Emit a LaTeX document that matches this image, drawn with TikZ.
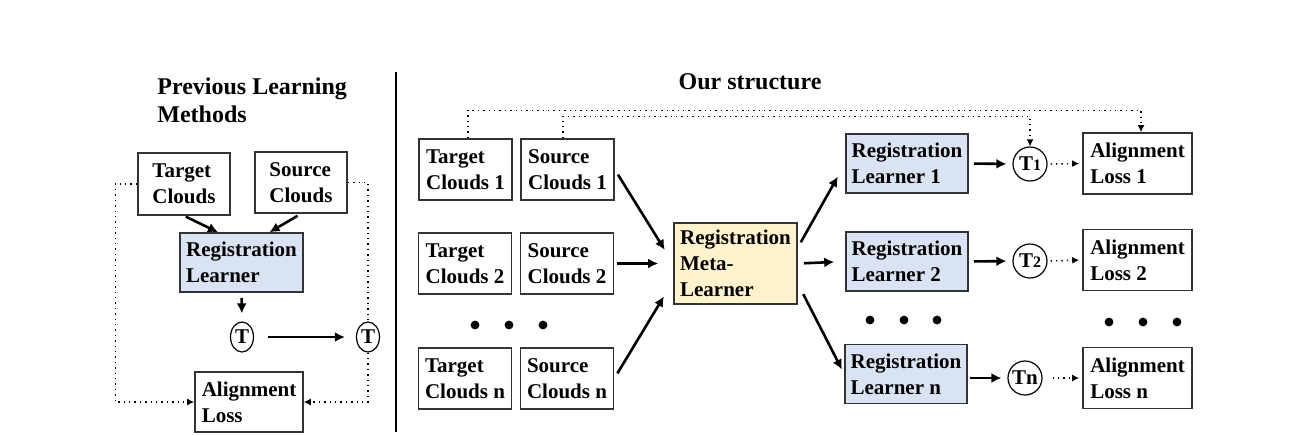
\documentclass[tikz,border=0pt]{standalone}
\usepackage{fontspec}
\setmainfont{Liberation Serif}
\usepackage{xcolor}
\usetikzlibrary{shapes.geometric, arrows.meta, positioning}

\definecolor{reglearn}{HTML}{DAE3F3}
\definecolor{metalearn}{HTML}{FFF2CC}

\begin{document}
\begin{tikzpicture}[
    x=0.5pt, y=-0.5pt,
    font=\fontsize{10.5}{13}\selectfont\bfseries,
    box/.style={
        rectangle,
        draw=black!80,
        line width=0.8pt,
        align=left,
        inner sep=2pt,
        minimum width=46.5pt,
        minimum height=30.5pt
    },
    regbox/.style={box, fill=reglearn, minimum width=61pt, minimum height=29.5pt},
    metabox/.style={box, fill=metalearn, minimum width=61.5pt, minimum height=40.5pt},
    lossbox/.style={box, minimum width=54.5pt, minimum height=30.5pt},
    tcirc/.style={circle, draw, line width=0.6pt, inner sep=0pt, minimum size=17pt},
    tell/.style={ellipse, draw, line width=0.6pt, inner sep=0pt, minimum width=11.5pt, minimum height=15pt},
    arr/.style={-{Latex[length=5pt, width=5pt]}, line width=1.3pt},
    dotarr/.style={-{Latex[length=3.5pt, width=3.5pt]}, line width=0.7pt, dotted}
]
  \useasboundingbox (0,0) rectangle (1305,435);

  % previous learning methods
  \node[anchor=north west, align=left, inner sep=0pt,
        font=\fontsize{12}{14}\selectfont\bfseries] (titleL) at (157,77)
        {Previous Learning\\Methods};
  \node[box, minimum width=46pt, minimum height=31pt] (tgtL) at (184,184) {Target\\Clouds};
  \node[box, minimum width=46pt] (srcL) at (301,182.5) {Source\\Clouds};
  \node[regbox, minimum width=61.5pt] (regL) at (241.5,262.5) {Registration\\Learner};
  \node[tell] (tL1) at (242,337) {T};
  \node[tell] (tL2) at (368,337) {T};
  \node[lossbox, minimum width=54pt, minimum height=30pt] (lossL) at (249,402) {Alignment\\Loss};

  \draw[arr, shorten <=1pt] (tgtL.south) -- ([xshift=-11.75pt]regL.north);
  \draw[arr, shorten <=2pt] (srcL.south) -- ([xshift=14pt]regL.north);
  \draw[arr, shorten <=2.5pt, shorten >=4pt] (regL.south) -- (tL1.north);
  \draw[arr, shorten <=7pt, shorten >=5.5pt] (tL1.east) -- (tL2.west);

  \draw[dotarr] (tgtL.west) -- ++(-22,0) |- (lossL.west);
  \draw[line width=0.7pt, dotted] (srcL.east) -| (tL2.north);
  \draw[dotarr] (tL2.south) |- (lossL.east);

  % separator
  \draw[line width=1pt] (396,72) -- (396,432);

  % our structure
  \node[font=\fontsize{12}{14}\selectfont\bfseries] (titleR) at (750,82) {Our structure};

  \node[box] (tgt1) at (465.5,169.5) {Target\\Clouds 1};
  \node[box] (src1) at (567.5,169.5) {Source\\Clouds 1};
  \node[box] (tgt2) at (465,263.5) {Target\\Clouds 2};
  \node[box] (src2) at (567,263.5) {Source\\Clouds 2};
  \node[box] (tgtn) at (465,378.5) {Target\\Clouds n};
  \node[box] (srcn) at (567,378.5) {Source\\Clouds n};

  \node[metabox] (meta) at (735.5,263.5) {Registration\\Meta-\\Learner};

  \node[regbox] (reg1) at (907,163.5) {Registration\\Learner 1};
  \node[regbox] (reg2) at (907,261.5) {Registration\\Learner 2};
  \node[regbox] (regn) at (906,374) {Registration\\Learner n};

  \node[tcirc] (t1) at (1030,164) {T{\fontsize{8}{8}\selectfont 1}};
  \node[tcirc] (t2) at (1030,261) {T{\fontsize{8}{8}\selectfont 2}};
  \node[tcirc] (tn) at (1025,378) {Tn};

  \node[lossbox] (loss1) at (1137.5,163.5) {Alignment\\Loss 1};
  \node[lossbox] (loss2) at (1137.5,260) {Alignment\\Loss 2};
  \node[lossbox] (lossn) at (1137.5,378) {Alignment\\Loss n};

  \foreach \x in {475,509,543} \fill (\x,325) circle (2.2pt);
  \foreach \x in {870,904,937} \fill (\x,320) circle (2.2pt);
  \foreach \x in {1109,1143,1177} \fill (\x,322) circle (2.2pt);

  \draw[arr, shorten <=3pt, shorten >=8pt] (src1.east) -- (meta.west);
  \draw[arr, shorten <=1.5pt, shorten >=7.5pt] (src2.east) -- (meta.west);
  \draw[arr, shorten <=3pt, shorten >=9pt] (srcn.east) -- ([yshift=-8.75pt]meta.west);

  \draw[arr, shorten <=3pt, shorten >=7.5pt] ([yshift=8pt]meta.east) -- (reg1.west);
  \draw[arr, shorten <=3pt, shorten >=5.5pt] (meta.east) -- (reg2.west);
  \draw[arr, shorten <=6pt, shorten >=2.5pt] ([yshift=-10pt]meta.east) -- (regn.west);

  \draw[arr, shorten <=2.5pt, shorten >=3pt] (reg1.east) -- (t1.west);
  \draw[arr, shorten <=2.5pt, shorten >=3pt] (reg2.east) -- (t2.west);
  \draw[arr, shorten <=1pt, shorten >=3pt] (regn.east |- tn.west) -- (tn.west);

  \draw[dotarr, shorten <=1.5pt, shorten >=1.5pt] (t1.east) -- (loss1.west);
  \draw[dotarr, shorten <=1.5pt, shorten >=1.5pt] (t2.east) -- (loss2.west);
  \draw[dotarr, shorten <=5pt, shorten >=1.5pt] (tn.east) -- (lossn.west);

  \draw[dotarr] ([xshift=1.25pt]tgt1.north) -- ++(0,-28) -| ([xshift=1.75pt]loss1.north);
  \draw[dotarr] ([xshift=-2.25pt]src1.north) -- ++(0,-22) -| (t1.north);
\end{tikzpicture}
\end{document}
